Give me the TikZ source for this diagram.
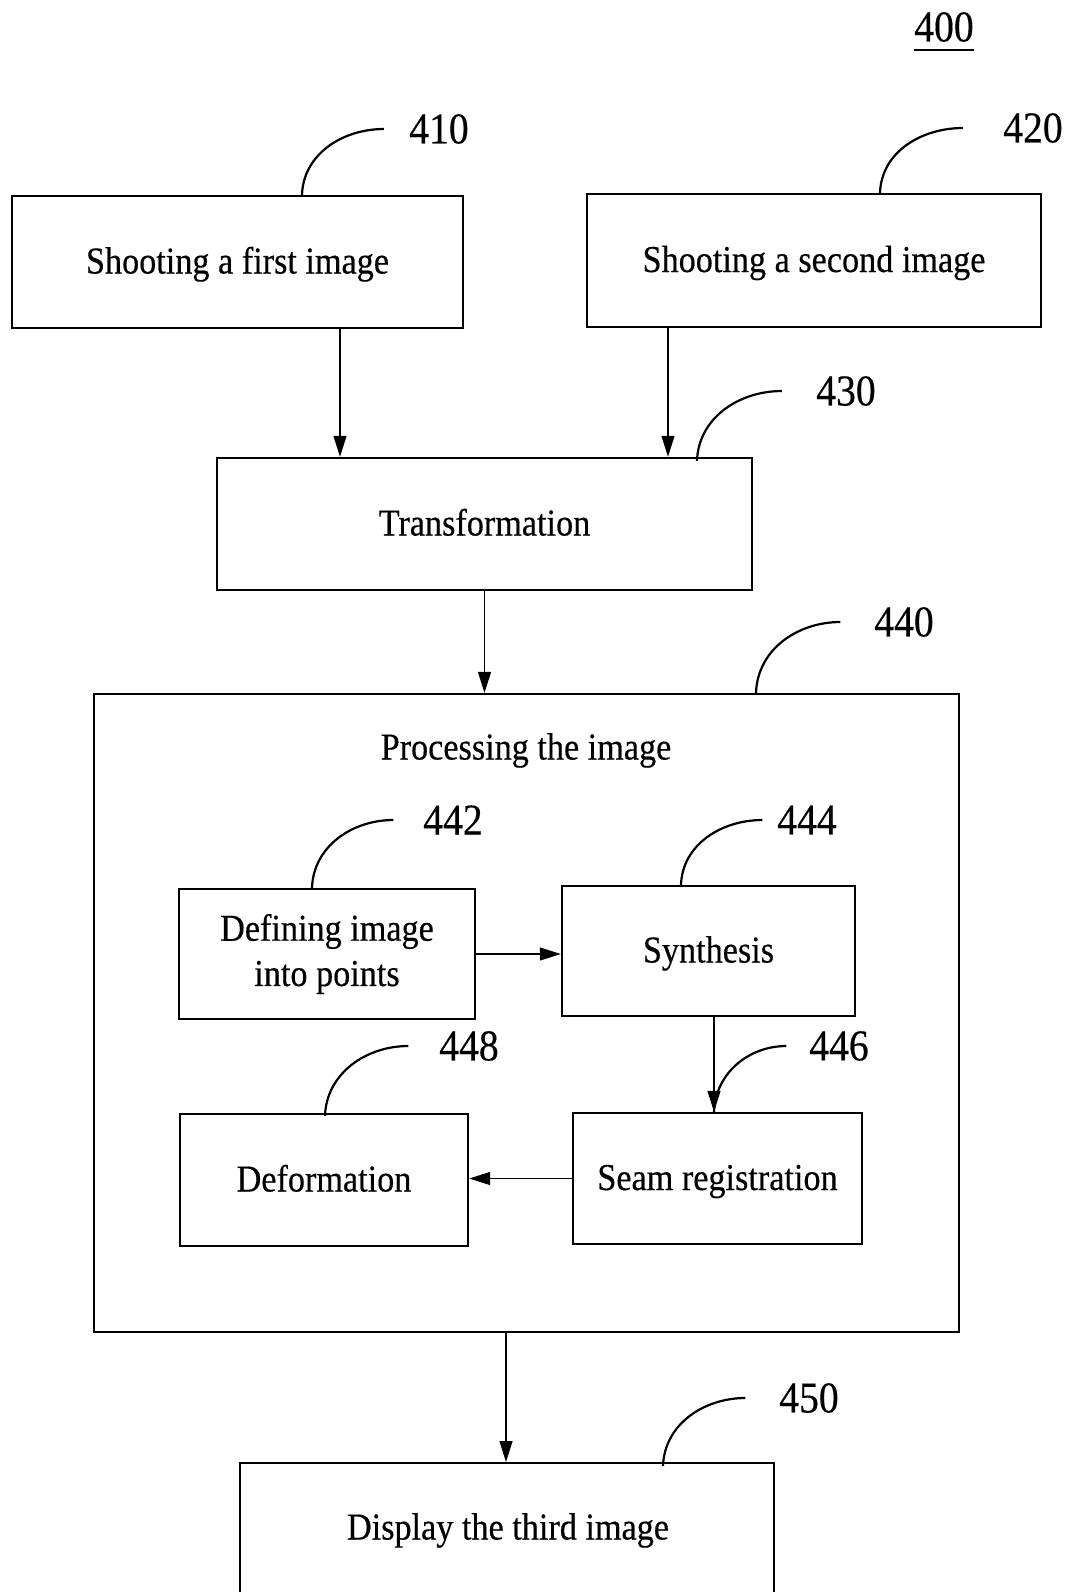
\documentclass[tikz,border=0pt]{standalone}
\usepackage{fontspec}
\setmainfont{Liberation Serif}[FakeStretch=0.9,FakeBold=0.4]
\usetikzlibrary{arrows.meta}
\begin{document}
\begin{tikzpicture}[x=0.5pt,y=-0.5pt,
  stepbox/.style={draw,line width=1.2pt,inner sep=0pt,font=\fontsize{19}{22.6}\selectfont,align=center},
  oneline/.style={text height=15.5pt,text depth=4pt},
  txt/.style={inner sep=0pt,font=\fontsize{19}{22.6}\selectfont,oneline},
  num/.style={inner sep=0pt,font=\fontsize{22}{24}\selectfont},
  arr/.style={line width=0.6pt,-{Triangle[length=10.5pt,width=6.5pt]}},
  lead/.style={line width=1.1pt}]
\useasboundingbox (0,0) rectangle (1069,1592);
\clip (0,0) rectangle (1069,1592);

% figure number
\node[num] (l400) at (944,27) {400};
\draw[line width=1.1pt] ([yshift=-4pt]l400.south west) -- ([yshift=-4pt]l400.south east);

% step boxes
\node[stepbox,oneline,minimum width=225.5pt,minimum height=66pt] (b410) at (237.5,262) {Shooting a first image};
\node[stepbox,oneline,minimum width=227pt,minimum height=66.5pt] (b420) at (814,260.5) {Shooting a second image};
\node[stepbox,oneline,minimum width=267.5pt,minimum height=66pt] (b430) at (484.5,524) {Transformation};
\node[stepbox,minimum width=432.5pt,minimum height=319pt] (b440) at (526.5,1013) {};
\node[txt] (t440) at (526,748) {Processing the image};
\node[stepbox,minimum width=148pt,minimum height=65pt] (b442) at (327,954) {Defining image\\into points};
\node[stepbox,oneline,minimum width=146.5pt,minimum height=65pt] (b444) at (708.5,951) {Synthesis};
\node[stepbox,oneline,minimum width=144.5pt,minimum height=65.5pt] (b446) at (717.5,1178.5) {Seam registration};
\node[stepbox,oneline,minimum width=144pt,minimum height=66pt] (b448) at (324,1180) {Deformation};
\node[stepbox,minimum width=267pt,minimum height=200pt,anchor=north] (b450) at (507,1462) {};
\node[txt] (t450) at (508,1528) {Display the third image};

% reference numerals
\node[num] (l410) at (439,129) {410};
\node[num] (l420) at (1033,128) {420};
\node[num] (l430) at (846,391) {430};
\node[num] (l440) at (904,622) {440};
\node[num] (l442) at (453,820) {442};
\node[num] (l444) at (807,820) {444};
\node[num] (l446) at (839,1046) {446};
\node[num] (l448) at (469,1046) {448};
\node[num] (l450) at (809,1398) {450};

% leader lines from boxes to numerals
\draw[lead] ([xshift=32.25pt]b410.north) to[out=88,in=180] ([xshift=-12.5pt]l410.west);
\draw[lead] ([xshift=33pt]b420.north) to[out=88,in=180] ([xshift=-20pt]l420.west);
\draw[lead] ([xshift=106.25pt,yshift=-2pt]b430.north) to[out=88,in=180] ([xshift=-17pt]l430.west);
\draw[lead] ([xshift=114.75pt]b440.north) to[out=88,in=180] ([xshift=-16.75pt]l440.west);
\draw[lead] ([xshift=-7.5pt]b442.north) to[out=88,in=180] ([xshift=-14.75pt]l442.west);
\draw[lead] ([xshift=-13.75pt]b444.north) to[out=88,in=180] ([xshift=-7.25pt]l444.west);
\draw[lead] ([xshift=-1.75pt]b446.north) to[out=88,in=180] ([xshift=-11.25pt]l446.west);
\draw[lead] ([xshift=0.5pt,yshift=-1.5pt]b448.north) to[out=88,in=180] ([xshift=-15.25pt]l448.west);
\draw[lead] ([xshift=78pt,yshift=-2pt]b450.north) to[out=88,in=180] ([xshift=-16.75pt]l450.west);

% flow arrows
\draw[arr] ([xshift=51.25pt]b410.south) -- ([xshift=51.25pt]b410.south |- b430.north);
\draw[arr] ([xshift=-73pt]b420.south) -- ([xshift=-73pt]b420.south |- b430.north);
\draw[arr] (b430.south) -- (b430.south |- b440.north);
\draw[arr] (b442.east) -- (b442.east -| b444.west);
\draw[arr] ([xshift=2.75pt]b444.south) -- ([xshift=2.75pt]b444.south |- b446.north);
\draw[arr] (b446.west) -- (b446.west -| b448.east);
\draw[arr] ([xshift=-10.25pt]b440.south) -- ([xshift=-10.25pt]b440.south |- b450.north);
\end{tikzpicture}
\end{document}
